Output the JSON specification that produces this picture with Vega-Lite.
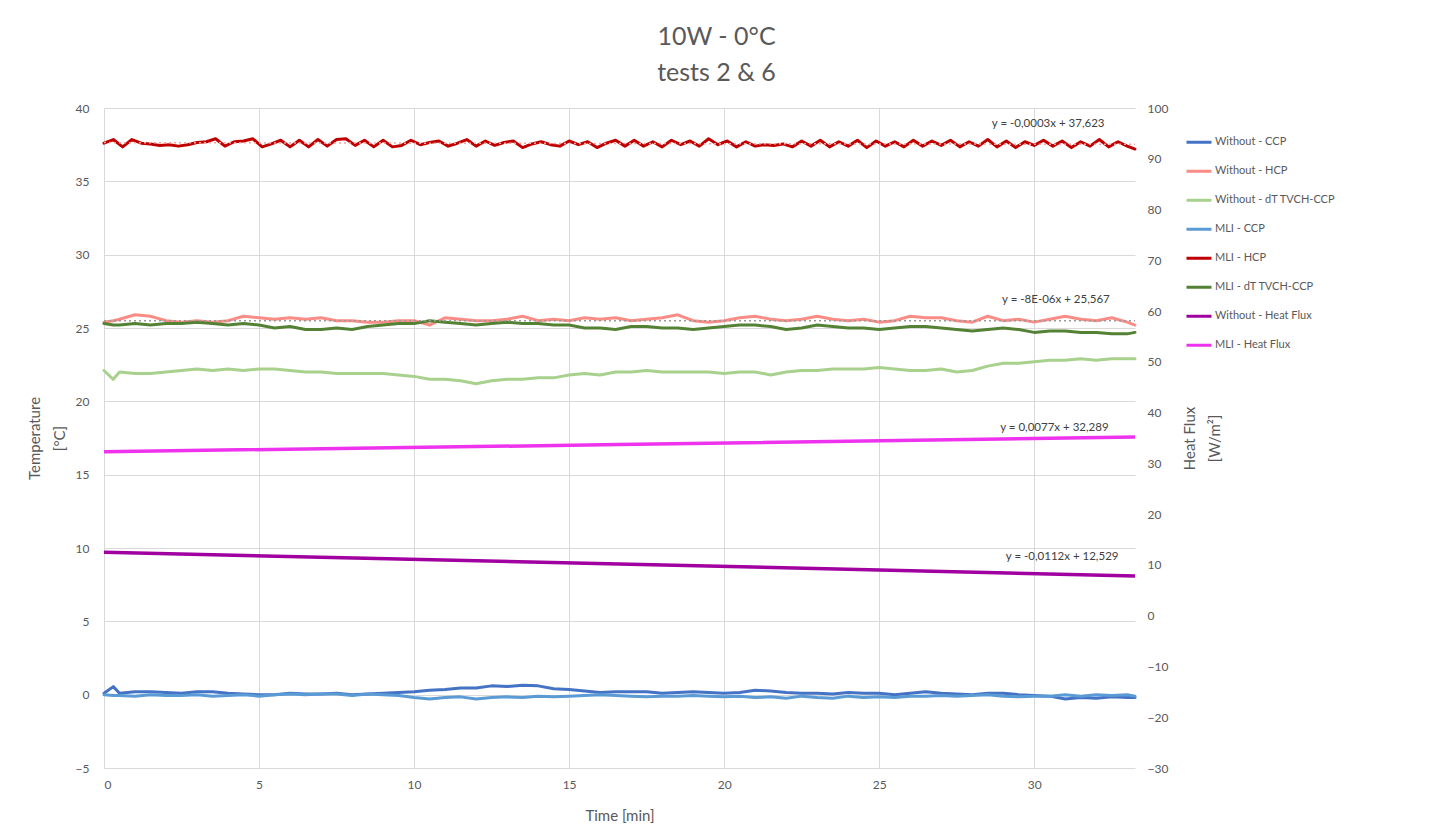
{
  "$schema": "https://vega.github.io/schema/vega-lite/v6.json",
  "width": 1031,
  "height": 660,
  "autosize": {"type": "none"},
  "padding": {"left": 104, "top": 108, "right": 297, "bottom": 68},
  "background": "white",
  "title": {
    "text": ["10W - 0°C", "tests 2 & 6"],
    "font": "Lato",
    "fontSize": 25,
    "fontWeight": "normal",
    "color": "#595959",
    "lineHeight": 36,
    "anchor": "middle",
    "frame": "group",
    "dx": 97,
    "offset": 16
  },
  "config": {
    "view": {"stroke": null},
    "axis": {
      "labelFont": "Lato",
      "labelFontSize": 12,
      "labelColor": "#595959",
      "titleFont": "Lato",
      "titleFontSize": 15,
      "titleColor": "#595959",
      "titleFontWeight": "normal",
      "domain": false,
      "ticks": false,
      "gridColor": "#d9d9d9",
      "gridWidth": 1
    },
    "legend": {
      "orient": "none",
      "legendX": 1081,
      "legendY": 20,
      "symbolType": "stroke",
      "symbolStrokeWidth": 3,
      "symbolSize": 625,
      "labelFont": "Lato",
      "labelFontSize": 11,
      "labelColor": "#595959",
      "clipHeight": 28.3,
      "rowPadding": 0,
      "labelOffset": 2
    }
  },
  "datasets": {
    "names": [
      {"key": "wc", "name": "Without - CCP"},
      {"key": "wh", "name": "Without - HCP"},
      {"key": "wd", "name": "Without - dT TVCH-CCP"},
      {"key": "mc", "name": "MLI - CCP"},
      {"key": "mh", "name": "MLI - HCP"},
      {"key": "md", "name": "MLI - dT TVCH-CCP"},
      {"key": "whf", "name": "Without - Heat Flux"},
      {"key": "mhf", "name": "MLI - Heat Flux"}
    ],
    "wide": [
      {"t": 0, "wc": 0.1, "wh": 25.4, "wd": 22.1, "mc": 0.0, "md": 25.3},
      {"t": 0.3, "wc": 0.55, "wh": 25.5, "wd": 21.5, "mc": -0.05, "md": 25.2},
      {"t": 0.5, "wc": 0.1, "wh": 25.6, "wd": 22.0, "mc": -0.05, "md": 25.2},
      {"t": 1, "wc": 0.2, "wh": 25.9, "wd": 21.9, "mc": -0.1, "md": 25.3},
      {"t": 1.5, "wc": 0.2, "wh": 25.8, "wd": 21.9, "mc": 0.0, "md": 25.2},
      {"t": 2, "wc": 0.15, "wh": 25.5, "wd": 22.0, "mc": -0.05, "md": 25.3},
      {"t": 2.5, "wc": 0.1, "wh": 25.4, "wd": 22.1, "mc": -0.05, "md": 25.3},
      {"t": 3, "wc": 0.2, "wh": 25.5, "wd": 22.2, "mc": 0.0, "md": 25.4},
      {"t": 3.5, "wc": 0.2, "wh": 25.4, "wd": 22.1, "mc": -0.1, "md": 25.3},
      {"t": 4, "wc": 0.1, "wh": 25.5, "wd": 22.2, "mc": -0.05, "md": 25.2},
      {"t": 4.5, "wc": 0.05, "wh": 25.8, "wd": 22.1, "mc": 0.0, "md": 25.3},
      {"t": 5, "wc": 0.0, "wh": 25.7, "wd": 22.2, "mc": -0.1, "md": 25.2},
      {"t": 5.5, "wc": 0.0, "wh": 25.6, "wd": 22.2, "mc": 0.0, "md": 25.0},
      {"t": 6, "wc": 0.1, "wh": 25.7, "wd": 22.1, "mc": 0.05, "md": 25.1},
      {"t": 6.5, "wc": 0.05, "wh": 25.6, "wd": 22.0, "mc": 0.0, "md": 24.9},
      {"t": 7, "wc": 0.05, "wh": 25.7, "wd": 22.0, "mc": 0.05, "md": 24.9},
      {"t": 7.5, "wc": 0.1, "wh": 25.5, "wd": 21.9, "mc": 0.05, "md": 25.0},
      {"t": 8, "wc": 0.0, "wh": 25.5, "wd": 21.9, "mc": -0.05, "md": 24.9},
      {"t": 8.5, "wc": 0.05, "wh": 25.4, "wd": 21.9, "mc": 0.05, "md": 25.1},
      {"t": 9, "wc": 0.1, "wh": 25.4, "wd": 21.9, "mc": 0.0, "md": 25.2},
      {"t": 9.5, "wc": 0.15, "wh": 25.5, "wd": 21.8, "mc": -0.05, "md": 25.3},
      {"t": 10, "wc": 0.2, "wh": 25.5, "wd": 21.7, "mc": -0.2, "md": 25.3},
      {"t": 10.5, "wc": 0.3, "wh": 25.2, "wd": 21.5, "mc": -0.3, "md": 25.5},
      {"t": 11, "wc": 0.35, "wh": 25.7, "wd": 21.5, "mc": -0.2, "md": 25.4},
      {"t": 11.5, "wc": 0.45, "wh": 25.6, "wd": 21.4, "mc": -0.15, "md": 25.3},
      {"t": 12, "wc": 0.45, "wh": 25.5, "wd": 21.2, "mc": -0.3, "md": 25.2},
      {"t": 12.5, "wc": 0.6, "wh": 25.5, "wd": 21.4, "mc": -0.2, "md": 25.3},
      {"t": 13, "wc": 0.55, "wh": 25.6, "wd": 21.5, "mc": -0.15, "md": 25.4},
      {"t": 13.5, "wc": 0.65, "wh": 25.8, "wd": 21.5, "mc": -0.2, "md": 25.3},
      {"t": 14, "wc": 0.6, "wh": 25.5, "wd": 21.6, "mc": -0.1, "md": 25.3},
      {"t": 14.5, "wc": 0.4, "wh": 25.6, "wd": 21.6, "mc": -0.15, "md": 25.2},
      {"t": 15, "wc": 0.35, "wh": 25.5, "wd": 21.8, "mc": -0.1, "md": 25.2},
      {"t": 15.5, "wc": 0.25, "wh": 25.7, "wd": 21.9, "mc": -0.05, "md": 25.0},
      {"t": 16, "wc": 0.15, "wh": 25.6, "wd": 21.8, "mc": 0.0, "md": 25.0},
      {"t": 16.5, "wc": 0.2, "wh": 25.7, "wd": 22.0, "mc": -0.05, "md": 24.9},
      {"t": 17, "wc": 0.2, "wh": 25.5, "wd": 22.0, "mc": -0.1, "md": 25.1},
      {"t": 17.5, "wc": 0.2, "wh": 25.6, "wd": 22.1, "mc": -0.15, "md": 25.1},
      {"t": 18, "wc": 0.1, "wh": 25.7, "wd": 22.0, "mc": -0.1, "md": 25.0},
      {"t": 18.5, "wc": 0.15, "wh": 25.9, "wd": 22.0, "mc": -0.1, "md": 25.0},
      {"t": 19, "wc": 0.2, "wh": 25.5, "wd": 22.0, "mc": -0.05, "md": 24.9},
      {"t": 19.5, "wc": 0.15, "wh": 25.4, "wd": 22.0, "mc": -0.1, "md": 25.0},
      {"t": 20, "wc": 0.1, "wh": 25.5, "wd": 21.9, "mc": -0.15, "md": 25.1},
      {"t": 20.5, "wc": 0.15, "wh": 25.7, "wd": 22.0, "mc": -0.1, "md": 25.2},
      {"t": 21, "wc": 0.3, "wh": 25.8, "wd": 22.0, "mc": -0.2, "md": 25.2},
      {"t": 21.5, "wc": 0.25, "wh": 25.6, "wd": 21.8, "mc": -0.15, "md": 25.1},
      {"t": 22, "wc": 0.15, "wh": 25.5, "wd": 22.0, "mc": -0.25, "md": 24.9},
      {"t": 22.5, "wc": 0.1, "wh": 25.6, "wd": 22.1, "mc": -0.1, "md": 25.0},
      {"t": 23, "wc": 0.1, "wh": 25.8, "wd": 22.1, "mc": -0.2, "md": 25.2},
      {"t": 23.5, "wc": 0.05, "wh": 25.6, "wd": 22.2, "mc": -0.25, "md": 25.1},
      {"t": 24, "wc": 0.15, "wh": 25.5, "wd": 22.2, "mc": -0.1, "md": 25.0},
      {"t": 24.5, "wc": 0.1, "wh": 25.6, "wd": 22.2, "mc": -0.2, "md": 25.0},
      {"t": 25, "wc": 0.1, "wh": 25.4, "wd": 22.3, "mc": -0.15, "md": 24.9},
      {"t": 25.5, "wc": 0.0, "wh": 25.5, "wd": 22.2, "mc": -0.2, "md": 25.0},
      {"t": 26, "wc": 0.1, "wh": 25.8, "wd": 22.1, "mc": -0.1, "md": 25.1},
      {"t": 26.5, "wc": 0.2, "wh": 25.7, "wd": 22.1, "mc": -0.1, "md": 25.1},
      {"t": 27, "wc": 0.1, "wh": 25.7, "wd": 22.2, "mc": -0.05, "md": 25.0},
      {"t": 27.5, "wc": 0.05, "wh": 25.5, "wd": 22.0, "mc": -0.1, "md": 24.9},
      {"t": 28, "wc": 0.0, "wh": 25.4, "wd": 22.1, "mc": -0.05, "md": 24.8},
      {"t": 28.5, "wc": 0.1, "wh": 25.8, "wd": 22.4, "mc": 0.0, "md": 24.9},
      {"t": 29, "wc": 0.1, "wh": 25.5, "wd": 22.6, "mc": -0.1, "md": 25.0},
      {"t": 29.5, "wc": 0.0, "wh": 25.6, "wd": 22.6, "mc": -0.15, "md": 24.9},
      {"t": 30, "wc": -0.05, "wh": 25.4, "wd": 22.7, "mc": -0.1, "md": 24.7},
      {"t": 30.5, "wc": -0.1, "wh": 25.6, "wd": 22.8, "mc": -0.1, "md": 24.8},
      {"t": 31, "wc": -0.3, "wh": 25.8, "wd": 22.8, "mc": 0.0, "md": 24.8},
      {"t": 31.5, "wc": -0.2, "wh": 25.6, "wd": 22.9, "mc": -0.1, "md": 24.7},
      {"t": 32, "wc": -0.25, "wh": 25.5, "wd": 22.8, "mc": 0.0, "md": 24.7},
      {"t": 32.5, "wc": -0.15, "wh": 25.7, "wd": 22.9, "mc": -0.05, "md": 24.6},
      {"t": 33, "wc": -0.2, "wh": 25.4, "wd": 22.9, "mc": 0.0, "md": 24.6},
      {"t": 33.25, "wc": -0.2, "wh": 25.2, "wd": 22.9, "mc": -0.1, "md": 24.7}
    ],
    "hcp": [
      {"t": 0, "mh": 37.6}, {"t": 0.3, "mh": 37.85}, {"t": 0.6, "mh": 37.35}, {"t": 0.9, "mh": 37.85},
      {"t": 1.2, "mh": 37.6}, {"t": 1.5, "mh": 37.55}, {"t": 1.8, "mh": 37.45}, {"t": 2.1, "mh": 37.5},
      {"t": 2.4, "mh": 37.4}, {"t": 2.7, "mh": 37.5}, {"t": 3.0, "mh": 37.65}, {"t": 3.3, "mh": 37.7},
      {"t": 3.6, "mh": 37.9}, {"t": 3.9, "mh": 37.4}, {"t": 4.2, "mh": 37.7}, {"t": 4.5, "mh": 37.75},
      {"t": 4.8, "mh": 37.9}, {"t": 5.1, "mh": 37.35}, {"t": 5.4, "mh": 37.55}, {"t": 5.7, "mh": 37.8},
      {"t": 6.0, "mh": 37.35}, {"t": 6.3, "mh": 37.8}, {"t": 6.6, "mh": 37.35}, {"t": 6.9, "mh": 37.85},
      {"t": 7.2, "mh": 37.4}, {"t": 7.5, "mh": 37.85}, {"t": 7.8, "mh": 37.9}, {"t": 8.1, "mh": 37.45},
      {"t": 8.4, "mh": 37.8}, {"t": 8.7, "mh": 37.35}, {"t": 9.0, "mh": 37.8}, {"t": 9.3, "mh": 37.35},
      {"t": 9.6, "mh": 37.45}, {"t": 9.9, "mh": 37.8}, {"t": 10.2, "mh": 37.5}, {"t": 10.5, "mh": 37.65},
      {"t": 10.8, "mh": 37.75}, {"t": 11.1, "mh": 37.4}, {"t": 11.4, "mh": 37.6}, {"t": 11.7, "mh": 37.85},
      {"t": 12.0, "mh": 37.4}, {"t": 12.3, "mh": 37.75}, {"t": 12.6, "mh": 37.45}, {"t": 12.9, "mh": 37.65},
      {"t": 13.2, "mh": 37.75}, {"t": 13.5, "mh": 37.3}, {"t": 13.8, "mh": 37.55}, {"t": 14.1, "mh": 37.7},
      {"t": 14.4, "mh": 37.5}, {"t": 14.7, "mh": 37.4}, {"t": 15.0, "mh": 37.75}, {"t": 15.3, "mh": 37.5},
      {"t": 15.6, "mh": 37.7}, {"t": 15.9, "mh": 37.3}, {"t": 16.2, "mh": 37.6}, {"t": 16.5, "mh": 37.8},
      {"t": 16.8, "mh": 37.4}, {"t": 17.1, "mh": 37.8}, {"t": 17.4, "mh": 37.4}, {"t": 17.7, "mh": 37.7},
      {"t": 18.0, "mh": 37.35}, {"t": 18.3, "mh": 37.8}, {"t": 18.6, "mh": 37.5}, {"t": 18.9, "mh": 37.75},
      {"t": 19.2, "mh": 37.4}, {"t": 19.5, "mh": 37.9}, {"t": 19.8, "mh": 37.5}, {"t": 20.1, "mh": 37.75},
      {"t": 20.4, "mh": 37.35}, {"t": 20.7, "mh": 37.7}, {"t": 21.0, "mh": 37.4}, {"t": 21.3, "mh": 37.5},
      {"t": 21.6, "mh": 37.45}, {"t": 21.9, "mh": 37.55}, {"t": 22.2, "mh": 37.35}, {"t": 22.5, "mh": 37.75},
      {"t": 22.8, "mh": 37.4}, {"t": 23.1, "mh": 37.8}, {"t": 23.4, "mh": 37.35}, {"t": 23.7, "mh": 37.7},
      {"t": 24.0, "mh": 37.4}, {"t": 24.3, "mh": 37.8}, {"t": 24.6, "mh": 37.3}, {"t": 24.9, "mh": 37.75},
      {"t": 25.2, "mh": 37.4}, {"t": 25.5, "mh": 37.7}, {"t": 25.8, "mh": 37.35}, {"t": 26.1, "mh": 37.8},
      {"t": 26.4, "mh": 37.4}, {"t": 26.7, "mh": 37.75}, {"t": 27.0, "mh": 37.45}, {"t": 27.3, "mh": 37.8},
      {"t": 27.6, "mh": 37.35}, {"t": 27.9, "mh": 37.7}, {"t": 28.2, "mh": 37.4}, {"t": 28.5, "mh": 37.85},
      {"t": 28.8, "mh": 37.35}, {"t": 29.1, "mh": 37.75}, {"t": 29.4, "mh": 37.3}, {"t": 29.7, "mh": 37.7},
      {"t": 30.0, "mh": 37.45}, {"t": 30.3, "mh": 37.8}, {"t": 30.6, "mh": 37.4}, {"t": 30.9, "mh": 37.75},
      {"t": 31.2, "mh": 37.3}, {"t": 31.5, "mh": 37.7}, {"t": 31.8, "mh": 37.4}, {"t": 32.1, "mh": 37.85},
      {"t": 32.4, "mh": 37.35}, {"t": 32.7, "mh": 37.7}, {"t": 33.0, "mh": 37.4}, {"t": 33.25, "mh": 37.2}
    ],
    "hf": [
      {"t": 0, "whf": 12.5, "mhf": 32.3},
      {"t": 16.6, "whf": 10.2, "mhf": 33.7},
      {"t": 33.25, "whf": 7.8, "mhf": 35.2}
    ],
    "trends": [
      {"g": "mh", "t": 0, "v": 37.64},
      {"g": "mh", "t": 33.25, "v": 37.52},
      {"g": "wh", "t": 0, "v": 25.5},
      {"g": "wh", "t": 33.25, "v": 25.5}
    ],
    "labels": [
      {"t": 30.45, "v": 38.9, "label": "y = -0,0003x + 37,623"},
      {"t": 30.7, "v": 26.9, "label": "y = -8E-06x + 25,567"},
      {"t": 30.65, "v": 18.2, "label": "y = 0,0077x + 32,289"},
      {"t": 30.9, "v": 9.4, "label": "y = -0,0112x + 12,529"}
    ]
  },
  "layer": [
    {
      "layer": [
        {
          "data": {"name": "wide"},
          "transform": [
            {"fold": ["wc", "wh", "wd", "mc", "md"], "as": ["key", "value"]},
            {"lookup": "key", "from": {"data": {"name": "names"}, "key": "key", "fields": ["name"]}}
          ],
          "mark": {"type": "line", "strokeWidth": 3, "strokeJoin": "round", "strokeCap": "round"},
          "encoding": {
            "x": {
              "field": "t", "type": "quantitative",
              "scale": {"domain": [0, 33.25], "nice": false, "zero": false},
              "axis": {
                "values": [0, 5, 10, 15, 20, 25, 30],
                "title": "Time [min]",
                "labelPadding": 11,
                "titleY": 47,
                "titleBaseline": "middle"
              }
            },
            "y": {
              "field": "value", "type": "quantitative",
              "scale": {"domain": [-5, 40], "nice": false, "zero": false},
              "axis": {
                "values": [-5, 0, 5, 10, 15, 20, 25, 30, 35, 40],
                "title": ["Temperature", "[°C]"],
                "labelPadding": 15,
                "titleAngle": -90,
                "titleX": -70,
                "titleY": 330,
                "titleAlign": "center",
                "titleBaseline": "middle",
                "titleLineHeight": 25
              }
            },
            "color": {
              "field": "name", "type": "nominal", "title": null,
              "scale": {
                "domain": ["Without - CCP", "Without - HCP", "Without - dT TVCH-CCP", "MLI - CCP", "MLI - HCP", "MLI - dT TVCH-CCP", "Without - Heat Flux", "MLI - Heat Flux"],
                "range": ["#4472C4", "#FA8C86", "#A9D18E", "#5B9BD5", "#C00000", "#548235", "#A000A0", "#EE33EE"]
              }
            }
          }
        },
        {
          "data": {"name": "hcp"},
          "transform": [
            {"fold": ["mh"], "as": ["key", "value"]},
            {"lookup": "key", "from": {"data": {"name": "names"}, "key": "key", "fields": ["name"]}}
          ],
          "mark": {"type": "line", "strokeWidth": 3, "strokeJoin": "round", "strokeCap": "round"},
          "encoding": {
            "x": {"field": "t", "type": "quantitative"},
            "y": {"field": "value", "type": "quantitative"},
            "color": {"field": "name", "type": "nominal", "title": null}
          }
        },
        {
          "data": {"name": "trends"},
          "transform": [{"filter": "datum.g == 'wh'"}],
          "mark": {"type": "line", "strokeWidth": 1.5, "strokeDash": [2, 3], "color": "#9a9a9a"},
          "encoding": {
            "x": {"field": "t", "type": "quantitative"},
            "y": {"field": "v", "type": "quantitative"}
          }
        },
        {
          "data": {"name": "trends"},
          "transform": [{"filter": "datum.g == 'mh'"}],
          "mark": {"type": "line", "strokeWidth": 1.5, "strokeDash": [2, 3], "color": "#f4a3a3"},
          "encoding": {
            "x": {"field": "t", "type": "quantitative"},
            "y": {"field": "v", "type": "quantitative"}
          }
        },
        {
          "data": {"name": "labels"},
          "mark": {"type": "text", "font": "Lato", "fontSize": 11.5, "color": "#404040", "align": "center", "baseline": "middle"},
          "encoding": {
            "x": {"field": "t", "type": "quantitative"},
            "y": {"field": "v", "type": "quantitative"},
            "text": {"field": "label"}
          }
        }
      ]
    },
    {
      "data": {"name": "hf"},
      "transform": [
        {"fold": ["whf", "mhf"], "as": ["key", "value"]},
        {"lookup": "key", "from": {"data": {"name": "names"}, "key": "key", "fields": ["name"]}}
      ],
      "mark": {"type": "line", "strokeWidth": 3.5},
      "encoding": {
        "x": {"field": "t", "type": "quantitative"},
        "y": {
          "field": "value", "type": "quantitative",
          "scale": {"domain": [-30, 100], "nice": false, "zero": false},
          "axis": {
            "orient": "right",
            "values": [-30, -20, -10, 0, 10, 20, 30, 40, 50, 60, 70, 80, 90, 100],
            "grid": false,
            "title": ["Heat Flux", "[W/m²]"],
            "labelPadding": 12,
            "titleAngle": -90,
            "titleX": 54,
            "titleY": 330,
            "titleAlign": "center",
            "titleBaseline": "middle",
            "titleLineHeight": 25
          }
        },
        "color": {"field": "name", "type": "nominal", "title": null}
      }
    }
  ],
  "resolve": {"scale": {"y": "independent"}}
}
